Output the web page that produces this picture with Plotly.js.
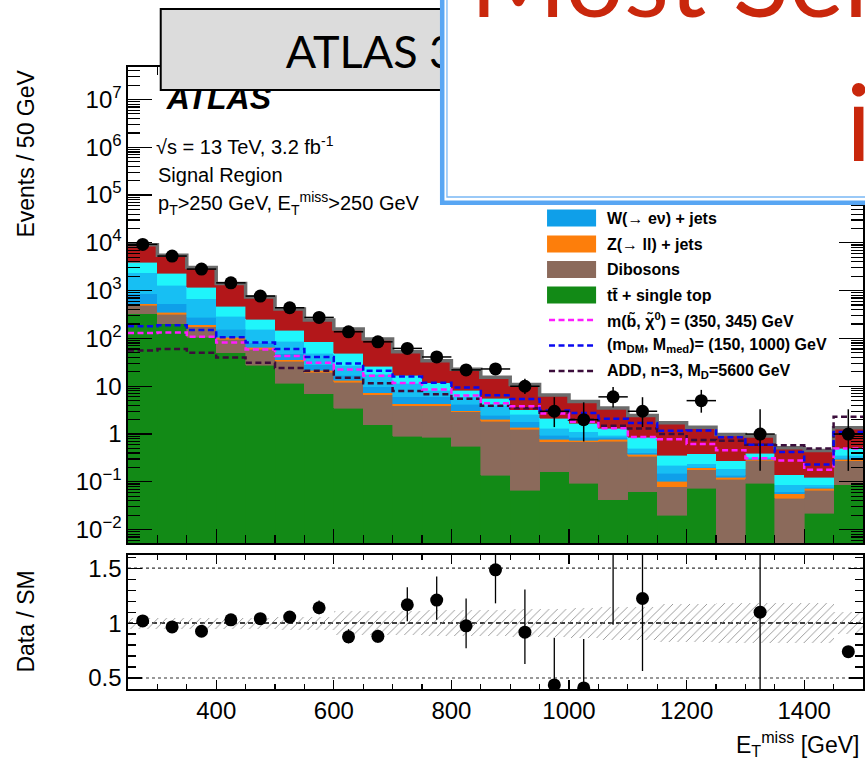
<!DOCTYPE html>
<html>
<head>
<meta charset="utf-8">
<script src="https://cdn.plot.ly/plotly-3.0.1.min.js"></script>
<style>
  html, body { margin: 0; padding: 0; background: #ffffff; }
  #chart { width: 865px; height: 761px; }
</style>
</head>
<body>
<div id="chart"></div>
<script>
// E_T^miss histogram, 50 GeV bins from 250 to 1500 GeV
const binCenters = [275, 325, 375, 425, 475, 525, 575, 625, 675, 725, 775, 825, 875,
                    925, 975, 1025, 1075, 1125, 1175, 1225, 1275, 1325, 1375, 1425, 1475];

// observed events (empty bins have no marker)
const dataEvents  = [9300, 5300, 2830, 1460, 771, 439, 276, 138, 85, 62, 41, 22, 23,
                     10, 3, 2, 6, 3, null, 5, null, 1, null, null, 1];
const dataErrUp   = [96, 73, 53, 38, 28, 21, 17, 12, 9.2, 8.9, 7.4, 5.7, 5.8,
                     4.3, 2.9, 2.6, 3.6, 2.9, null, 3.4, null, 2.3, null, null, 2.3];
const dataErrDown = [96, 73, 53, 38, 28, 21, 17, 12, 9.2, 7.9, 6.4, 4.7, 4.8,
                     3.1, 1.6, 1.3, 2.4, 1.6, null, 2.2, null, 0.83, null, null, 0.83];

// background processes, bottom of the stack first
const ttbarSingleTop = [331, 205, 107, 50, 27.7, 11.7, 6.9, 3.45, 1.55, 0.91, 0.85, 0.56, 0.139,
                        0.067, 0.163, 0.093, 0.042, 0.062, 0.020, 0.073, null, 0.093, null, 0.022, 0.086];
const dibosons = [159, 119, 71, 47, 31.3, 21.3, 12.9, 8.75, 5.15, 2.99, 3.05, 2.34, 1.70,
                  1.18, 0.53, 0.59, 0.66, 0.283, 0.059, 0.107, 0.113, 0.187, 0.045, 0.044, 0.191];
const zllJets = [47, 32, 17, 10, 6, 3, 2, 1.3, 0.7, 0.4, 0.4, 0.2, 0.19,
                 0.13, 0.08, 0.06, 0.07, 0.035, 0.025, 0.015, 0.011, 0.02, 0.011, 0.007, 0.018];
const wenuJets = [324, 179, 85, 48, 16, 12, 6.2, 3.6, 2.4, 1.7, 1.7, 1.1, 0.47,
                  0.42, 0.18, 0.11, 0.08, 0.03, 0.046, 0.005, 0.014, 0.005, 0.0064, 0.004, 0.015];
const wmunuJets = [1509, 755, 397, 139, 74, 40, 21, 10.6, 8.2, 5.5, 2.3, 1.8, 1.5,
                   0.8, 0.37, 0.27, 0.10, 0.09, 0.07, 0.04, 0.052, 0.025, 0.024, 0.009, 0.05];
const wtaunuJets = [1590, 1040, 513, 182, 96, 60, 36, 21.3, 8.5, 5.6, 3.5, 2.3, 1.6,
                    0.6, 0.81, 0.55, 0.37, 0.35, 0.14, 0.15, 0.087, 0.065, 0.053, 0.038, 0.14];
const znunuJets = [5160, 3160, 1865, 944, 490, 268, 157, 109, 70.5, 35.9, 22.2, 14.3, 9.9,
                   7.7, 4.4, 3.13, 2.2, 1.6, 1.36, 0.99, 0.70, 0.52, 0.38, 0.33, 0.85];

// signal benchmarks (not stacked)
const sbottomSignal = [130, 134, 109, 82, 59, 43, 31, 22.5, 16.5, 11.7, 8.6, 6.4, 4.4,
                       3.8, 2.7, 1.8, 1.32, 0.87, 0.78, 0.62, 0.46, 0.31, 0.28, 0.18, 0.5];
const dmSignal = [180, 188, 150, 106, 82, 60, 41, 30, 21, 16, 11.9, 9.4, 6.5,
                  5.4, 3.1, 2.75, 2.1, 1.7, 1.17, 1.18, 0.86, 0.6, 0.42, 0.23, 1.1];
const addSignal = [56, 60, 50, 40, 31, 24, 21, 15, 11.5, 8, 6.8, 5.5, 3.9,
                   3.45, 2.8, 2.0, 1.5, 1.3, 1.0, 0.75, 0.72, 0.6, 0.58, 0.5, 2.3];

// Data / SM ratio panel
const ratioValues = [1.02, 0.965, 0.926, 1.03, 1.04, 1.055, 1.14, 0.875, 0.88, 1.167, 1.21, 0.975, 1.485,
                     0.917, 0.437, 0.41, 1.71, 1.224, null, 3.6, null, 1.1, null, null, 0.74];
const ratioErrUp   = [0.011, 0.013, 0.018, 0.027, 0.037, 0.05, 0.065, 0.07, 0.06, 0.16, 0.215, 0.25, 0.38,
                      0.39, 0.43, 0.445, 1.0, 0.9, null, 2.5, null, 2.5, null, null, 0];
const ratioErrDown = [0.011, 0.013, 0.018, 0.027, 0.037, 0.05, 0.06, 0.06, 0.06, 0.15, 0.18, 0.205, 0.305,
                      0.29, 0.3, 0.3, 0.725, 0.66, null, 1.6, null, 0.9, null, null, 0];
// relative SM uncertainty (hatched band)
const smRelUncert = [0.05, 0.05, 0.05, 0.05, 0.05, 0.06, 0.06, 0.11, 0.11, 0.11, 0.12, 0.12, 0.12,
                     0.13, 0.13, 0.14, 0.15, 0.15, 0.17, 0.17, 0.18, 0.18, 0.18, 0.18, 0.10];

const yTickVals = [1e-2, 1e-1, 1, 10, 1e2, 1e3, 1e4, 1e5, 1e6, 1e7];
const yTickText = ['10<sup>\u22122</sup>', '10<sup>\u22121</sup>', '1', '10', '10<sup>2</sup>',
                   '10<sup>3</sup>', '10<sup>4</sup>', '10<sup>5</sup>', '10<sup>6</sup>', '10<sup>7</sup>'];

// ---------------------------------------------------------------------------
const BIN_W = 50;
const binEdges = binCenters.map(c => c - BIN_W / 2).concat([binCenters[binCenters.length - 1] + BIN_W / 2]);
const stepY = arr => arr.concat([arr[arr.length - 1]]);
const smTotal = binCenters.map((_, i) =>
  [ttbarSingleTop, dibosons, zllJets, wenuJets, wmunuJets, wtaunuJets, znunuJets]
    .reduce((s, a) => s + (a[i] || 0), 0));

// pixel -> paper helpers (plot area spans 128..863 x 67..689 px)
const PL = 128.3, PR = 862.7, PT = 67, PB = 689;
const px = x => (x - PL) / (PR - PL);
const py = y => (PB - y) / (PB - PT);

const FONT = 'Liberation Sans, Arial, sans-serif';
const SLIDE_FONT = 'Lato, Open Sans, sans-serif';

function stackBar(values, color, name) {
  return {
    type: 'bar', x: binCenters, y: values, width: BIN_W, name: name,
    xaxis: 'x2', yaxis: 'y2',
    marker: { color: color, line: { color: color, width: 0.6 } },
    hoverinfo: 'skip', showlegend: false
  };
}
function stepLine(values, color, dash, width) {
  return {
    type: 'scatter', mode: 'lines', x: binEdges, y: stepY(values),
    xaxis: 'x2', yaxis: 'y2',
    line: { shape: 'hv', color: color, width: width, dash: dash },
    hoverinfo: 'skip', showlegend: false
  };
}

const C_TT = '#128a16', C_VV = '#8b6a5b', C_ZLL = '#fd7e0b', C_WENU = '#0f9fe9',
      C_WMUNU = '#17bff3', C_WTAUNU = '#1ff5fb', C_ZNUNU = '#b3171a';

const traces = [
  stackBar(ttbarSingleTop, C_TT, 'tt + single top'),
  stackBar(dibosons, C_VV, 'Dibosons'),
  stackBar(zllJets, C_ZLL, 'Z(ll) + jets'),
  stackBar(wenuJets, C_WENU, 'W(ev) + jets'),
  stackBar(wmunuJets, C_WMUNU, 'W(muv) + jets'),
  stackBar(wtaunuJets, C_WTAUNU, 'W(tauv) + jets'),
  stackBar(znunuJets, C_ZNUNU, 'Z(vv) + jets'),
  stepLine(smTotal, '#6c6c6c', 'solid', 3.5),
  stepLine(addSignal, '#3b0d3b', '6px,3.5px', 2.5),
  stepLine(sbottomSignal, '#ff1cff', '6px,3.5px', 2.5),
  stepLine(dmSignal, '#0a0af0', '6px,3.5px', 2.5),
  {
    type: 'scatter', mode: 'markers', x: binCenters, y: dataEvents,
    xaxis: 'x2', yaxis: 'y2',
    marker: { color: '#000', size: 13 },
    error_y: { type: 'data', symmetric: false, array: dataErrUp, arrayminus: dataErrDown,
               color: '#000', thickness: 1.5, width: 0 },
    error_x: { type: 'constant', value: BIN_W / 2, color: '#000', thickness: 1.5, width: 0 },
    hoverinfo: 'skip', showlegend: false
  },
  // ratio panel: hatched SM uncertainty
  {
    type: 'bar', x: binCenters, width: BIN_W,
    base: smRelUncert.map(u => 1 - u), y: smRelUncert.map(u => 2 * u),
    xaxis: 'x', yaxis: 'y',
    marker: { color: 'rgba(0,0,0,0)', line: { width: 0 },
              pattern: { shape: '/', fgcolor: '#8a8a8a', bgcolor: 'rgba(0,0,0,0)', size: 6, solidity: 0.14 } },
    hoverinfo: 'skip', showlegend: false
  },
  {
    type: 'scatter', mode: 'markers', x: binCenters, y: ratioValues,
    xaxis: 'x', yaxis: 'y',
    marker: { color: '#000', size: 13 },
    error_y: { type: 'data', symmetric: false, array: ratioErrUp, arrayminus: ratioErrDown,
               color: '#000', thickness: 1.3, width: 0 },
    hoverinfo: 'skip', showlegend: false
  }
];

// minor ticks for the log axis
const logMinor = [];
for (let e = -3; e <= 7; e++) for (let m = 2; m <= 9; m++) logMinor.push(m * Math.pow(10, e));

const tickFont = { family: FONT, size: 24, color: '#000' };
const xCommon = {
  range: [250, 1500], showgrid: false, zeroline: false,
  showline: true, linecolor: '#000', linewidth: 1.6, mirror: 'ticks',
  ticks: 'inside', tickcolor: '#000', tickwidth: 1.2,
  tick0: 0, dtick: 200, tickfont: tickFont,
  minor: { dtick: 50, tick0: 0, ticks: 'inside', tickcolor: '#000', tickwidth: 1.2 }
};

const legendRows = [
  { kind: 'box', color: C_WENU, text: 'W(\u2192 e\u03bd) + jets', y: 218 },
  { kind: 'box', color: C_ZLL, text: 'Z(\u2192 ll) + jets', y: 244 },
  { kind: 'box', color: C_VV, text: 'Dibosons', y: 269.5 },
  { kind: 'box', color: C_TT, text: 't\u0074\u0304 + single top', y: 295 },
  { kind: 'line', color: '#ff1cff', text: 'm(b\u0303, \u03c7\u0303<sup>0</sup>) = (350, 345) GeV', y: 320 },
  { kind: 'line', color: '#0a0af0', text: '(m<sub>DM</sub>, M<sub>med</sub>)= (150, 1000) GeV', y: 345.5 },
  { kind: 'line', color: '#3b0d3b', text: 'ADD, n=3, M<sub>D</sub>=5600 GeV', y: 371 }
];

const shapes = [];
const annotations = [];

// ratio reference lines
shapes.push({ type: 'line', xref: 'x', yref: 'y', x0: 250, x1: 1500, y0: 1.5, y1: 1.5,
              line: { color: '#333', width: 1.2, dash: 'dot' }, layer: 'below' });
shapes.push({ type: 'line', xref: 'x', yref: 'y', x0: 250, x1: 1500, y0: 0.5, y1: 0.5,
              line: { color: '#333', width: 1.2, dash: 'dot' }, layer: 'below' });
shapes.push({ type: 'line', xref: 'x', yref: 'y', x0: 250, x1: 1500, y0: 1, y1: 1,
              line: { color: '#000', width: 1.5, dash: '5px,3px' }, layer: 'below' });

// legend
legendRows.forEach(r => {
  if (r.kind === 'box') {
    shapes.push({ type: 'rect', xref: 'paper', yref: 'paper',
                  x0: px(547), x1: px(596), y0: py(r.y + 8.5), y1: py(r.y - 8.5),
                  fillcolor: r.color, line: { width: 0 } });
  } else {
    shapes.push({ type: 'line', xref: 'paper', yref: 'paper',
                  x0: px(549), x1: px(596), y0: py(r.y), y1: py(r.y),
                  line: { color: r.color, width: 2.5, dash: '6px,3.5px' } });
  }
  annotations.push({ xref: 'paper', yref: 'paper', x: px(605), y: py(r.y),
                     xanchor: 'left', yanchor: 'middle', showarrow: false,
                     text: '<b>' + r.text + '</b>', font: { family: FONT, size: 16, color: '#000' } });
});

// ATLAS label (sits under the grey title box)
shapes.push({ type: 'rect', xref: 'paper', yref: 'paper',
              x0: px(164), x1: px(320), y0: py(105), y1: py(85),
              fillcolor: 'rgba(0,0,0,0)', line: { width: 0 },
              label: { text: '<b><i>ATLAS</i></b>', textposition: 'middle left', padding: 0,
                       font: { family: FONT, size: 32, color: '#000' } } });

// grey slide title box
shapes.push({ type: 'rect', xref: 'paper', yref: 'paper',
              x0: px(161), x1: px(650), y0: py(90), y1: py(9),
              fillcolor: '#dcdcdc', line: { color: '#000', width: 2 },
              label: { text: 'ATLAS 3.2', textposition: 'middle left', padding: 122,
                       font: { family: SLIDE_FONT, size: 45, color: '#000' } } });

// white call-out box with a blue frame
shapes.push({ type: 'rect', xref: 'paper', yref: 'paper',
              x0: px(440), x1: px(900), y0: py(205), y1: py(-30),
              fillcolor: '#58a6f3', line: { width: 0 } });
shapes.push({ type: 'rect', xref: 'paper', yref: 'paper',
              x0: px(444.5), x1: px(900), y0: py(200.5), y1: py(-30),
              fillcolor: '#ffffff', line: { width: 0 } });
shapes.push({ type: 'rect', xref: 'paper', yref: 'paper',
              x0: px(447), x1: px(900), y0: py(197), y1: py(-30),
              fillcolor: '#ffffff', line: { color: '#7ab8f5', width: 1.3 } });

annotations.push(
  { xref: 'paper', yref: 'paper', x: px(468), y: py(-23), xanchor: 'left', yanchor: 'middle',
    showarrow: false, text: 'Most Sensitive', font: { family: SLIDE_FONT, size: 104, color: '#c9270c' } },
  { xref: 'paper', yref: 'paper', x: px(844), y: py(120), xanchor: 'left', yanchor: 'middle',
    showarrow: false, text: 'in', font: { family: SLIDE_FONT, size: 106, color: '#c9270c' } },
  // analysis labels
  { xref: 'paper', yref: 'paper', x: px(154), y: py(146), xanchor: 'left', yanchor: 'middle',
    showarrow: false, text: '\u221as = 13 TeV, 3.2 fb<sup>-1</sup>', font: { family: FONT, size: 20, color: '#000' } },
  { xref: 'paper', yref: 'paper', x: px(156), y: py(175), xanchor: 'left', yanchor: 'middle',
    showarrow: false, text: 'Signal Region', font: { family: FONT, size: 20, color: '#000' } },
  { xref: 'paper', yref: 'paper', x: px(156), y: py(203), xanchor: 'left', yanchor: 'middle',
    showarrow: false, text: 'p<sub>T</sub>>250 GeV, E<sub>T</sub><sup>miss</sup>>250 GeV',
    font: { family: FONT, size: 20, color: '#000' } },
  // axis titles
  { xref: 'paper', yref: 'paper', x: px(26), y: py(154), xanchor: 'center', yanchor: 'middle',
    textangle: -90, showarrow: false, text: 'Events / 50 GeV', font: { family: FONT, size: 23, color: '#000' } },
  { xref: 'paper', yref: 'paper', x: px(26), y: py(622), xanchor: 'center', yanchor: 'middle',
    textangle: -90, showarrow: false, text: 'Data / SM', font: { family: FONT, size: 23, color: '#000' } },
  { xref: 'paper', yref: 'paper', x: px(861), y: py(744), xanchor: 'right', yanchor: 'middle',
    showarrow: false, text: 'E<sub>T</sub><sup>miss</sup> [GeV]', font: { family: FONT, size: 23, color: '#000' } }
);

const layout = {
  width: 865, height: 761,
  margin: { l: 128, r: 2, t: 67, b: 72 },
  paper_bgcolor: '#ffffff', plot_bgcolor: '#ffffff',
  showlegend: false,
  barmode: 'stack', bargap: 0,
  font: { family: FONT, color: '#000' },
  xaxis: Object.assign({}, xCommon, { anchor: 'y', ticklen: 9, minor: Object.assign({}, xCommon.minor, { ticklen: 5 }) }),
  xaxis2: Object.assign({}, xCommon, { anchor: 'y2', matches: 'x', showticklabels: false, ticklen: 14,
                                       minor: Object.assign({}, xCommon.minor, { ticklen: 8 }) }),
  yaxis: {
    domain: [0, 0.2154], range: [0.4, 1.62], anchor: 'x',
    showgrid: false, zeroline: false, showline: true, linecolor: '#000', linewidth: 1.6, mirror: 'ticks',
    ticks: 'inside', ticklen: 14, tickcolor: '#000', tickwidth: 1.2,
    tickmode: 'array', tickvals: [0.5, 1, 1.5], ticktext: ['0.5', '1', '1.5'], tickfont: tickFont,
    minor: { dtick: 0.1, tick0: 0, ticks: 'inside', ticklen: 8, tickcolor: '#000', tickwidth: 1.2 }
  },
  yaxis2: {
    domain: [0.2347, 1], type: 'log', range: [-2.28, 7.68], anchor: 'x2',
    showgrid: false, zeroline: false, showline: true, linecolor: '#000', linewidth: 1.6, mirror: 'ticks',
    ticks: 'inside', ticklen: 24, tickcolor: '#000', tickwidth: 1.2,
    tickmode: 'array', tickvals: yTickVals, ticktext: yTickText, tickfont: tickFont,
    minor: { tickmode: 'array', tickvals: logMinor, ticks: 'inside', ticklen: 12, tickcolor: '#000', tickwidth: 1.2 }
  },
  shapes: shapes,
  annotations: annotations
};

Plotly.newPlot('chart', traces, layout, { staticPlot: true, displayModeBar: false });
</script>
</body>
</html>
